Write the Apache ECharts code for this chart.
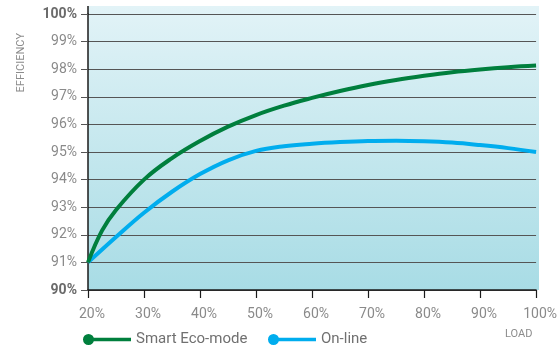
<!DOCTYPE html>
<html>
<head>
<meta charset="utf-8">
<title>Efficiency vs Load</title>
<script src="https://cdn.jsdelivr.net/npm/echarts@6/dist/echarts.min.js"></script>
<style>
  html, body { margin: 0; padding: 0; background: #ffffff; }
  #chart { width: 560px; height: 345px; }
</style>
</head>
<body>
<div id="chart"></div>
<script>
// Load points (% of rated load)
const ecoLoad    = [20, 22.5, 25, 30, 35, 40, 45, 50, 55, 60, 65, 70, 75, 80, 85, 90, 95, 100];
// Smart Eco-mode efficiency (%)
const ecoEff     = [91.0, 92.15, 92.9, 94.0, 94.78, 95.4, 95.92, 96.34, 96.68, 96.96, 97.21, 97.43, 97.61, 97.76, 97.89, 97.99, 98.07, 98.13];
const onlineLoad = [20, 25, 30, 35, 40, 45, 50, 55, 60, 65, 70, 75, 80, 85, 90, 95, 100];
// On-line efficiency (%)
const onlineEff  = [91.0, 91.92, 92.8, 93.56, 94.2, 94.7, 95.04, 95.21, 95.3, 95.36, 95.4, 95.41, 95.39, 95.34, 95.25, 95.14, 95.0];

const seriesNames = ['Smart Eco-mode', 'On-line'];
const xAxisTitle = 'LOAD';
const yAxisTitle = 'EFFICIENCY';

const FONT = "Roboto, 'Liberation Sans', sans-serif";
const GREEN = '#007f3d';
const BLUE = '#00adee';
const GRID = { left: 88, right: 21, top: 14, bottom: 55 };
const W = 560, H = 345;

const chart = echarts.init(document.getElementById('chart'), null, { renderer: 'canvas' });

const pairs = (xs, ys) => xs.map((x, i) => [x, ys[i]]);

// Legend pictogram: a dot at the left end of a thick bar (both drawn with the same winding)
const legendIcon = 'path://M0,5.5a5.5,5.5 0 1,0 11,0a5.5,5.5 0 1,0 -11,0ZM10.6,3.7v3.6h37.4v-3.6Z';

const legendBase = {
  orient: 'horizontal',
  top: 332,
  padding: 0,
  icon: legendIcon,
  itemWidth: 48,
  itemHeight: 11,
  itemGap: 5,
  selectedMode: false,
  textStyle: { fontFamily: FONT, fontSize: 15, color: '#707070' }
};

chart.setOption({
  animation: false,
  backgroundColor: '#ffffff',
  textStyle: { fontFamily: FONT },
  graphic: [
    {
      // Shaded panel behind the plot, rising a little above the top gridline
      type: 'rect',
      z: -10,
      silent: true,
      shape: { x: GRID.left, y: GRID.top - 8, width: W - GRID.left - GRID.right, height: H - GRID.bottom - GRID.top + 8 },
      style: {
        fill: new echarts.graphic.LinearGradient(0, 0, 0, 1, [
          { offset: 0, color: '#e2f3f7' },
          { offset: 1, color: '#a8dce5' }
        ])
      }
    },
    {
      // Vertical axis line continues to the panel top
      type: 'line',
      z: 10,
      silent: true,
      shape: { x1: GRID.left, y1: GRID.top - 8, x2: GRID.left, y2: GRID.top },
      style: { stroke: '#1a1a1a', lineWidth: 1.5 }
    },
    {
      type: 'text',
      left: 16,
      top: 33,
      rotation: Math.PI / 2,
      style: { text: yAxisTitle, fontFamily: FONT, fontSize: 11, fill: '#8c8c8c' }
    },
    {
      type: 'text',
      left: 505,
      top: 329,
      style: { text: xAxisTitle, fontFamily: FONT, fontSize: 11, fill: '#8c8c8c' }
    }
  ],
  legend: [
    Object.assign({}, legendBase, { left: 83, data: [seriesNames[0]] }),
    Object.assign({}, legendBase, { left: 268, data: [seriesNames[1]] })
  ],
  grid: { left: GRID.left, right: GRID.right, top: GRID.top, bottom: GRID.bottom, containLabel: false },
  xAxis: {
    type: 'value',
    min: 20,
    max: 100,
    interval: 10,
    axisLine: { show: true, lineStyle: { color: '#1a1a1a', width: 1.5 } },
    axisTick: { show: true, inside: false, length: 8, lineStyle: { color: '#1a1a1a', width: 1.2 } },
    splitLine: { show: false },
    axisLabel: {
      formatter: '{value}%',
      fontFamily: FONT,
      fontSize: 14,
      color: '#8a8a8a',
      margin: 17,
      padding: [0, 0, 0, 8]
    }
  },
  yAxis: {
    type: 'value',
    min: 90,
    max: 100,
    interval: 1,
    axisLine: { show: true, lineStyle: { color: '#1a1a1a', width: 1.5 } },
    axisTick: { show: true, inside: false, length: 7, lineStyle: { color: '#555555', width: 1 } },
    splitLine: { show: true, lineStyle: { color: '#555555', width: 1 } },
    axisLabel: {
      margin: 11,
      fontFamily: FONT,
      fontSize: 14,
      color: '#8a8a8a',
      formatter: v => (v === 90 || v === 100) ? '{b|' + v + '%}' : v + '%',
      rich: {
        b: { fontFamily: FONT, fontSize: 14, fontWeight: 'bold', color: '#6a6a6a' }
      }
    }
  },
  series: [
    {
      name: seriesNames[0],
      type: 'line',
      data: pairs(ecoLoad, ecoEff),
      smooth: 0.4,
      showSymbol: false,
      symbol: 'circle',
      color: GREEN,
      itemStyle: { color: GREEN },
      lineStyle: { color: GREEN, width: 4 },
      z: 5
    },
    {
      name: seriesNames[1],
      type: 'line',
      data: pairs(onlineLoad, onlineEff),
      smooth: 0.4,
      showSymbol: false,
      symbol: 'circle',
      color: BLUE,
      itemStyle: { color: BLUE },
      lineStyle: { color: BLUE, width: 4 },
      z: 4
    }
  ]
});
</script>
</body>
</html>
